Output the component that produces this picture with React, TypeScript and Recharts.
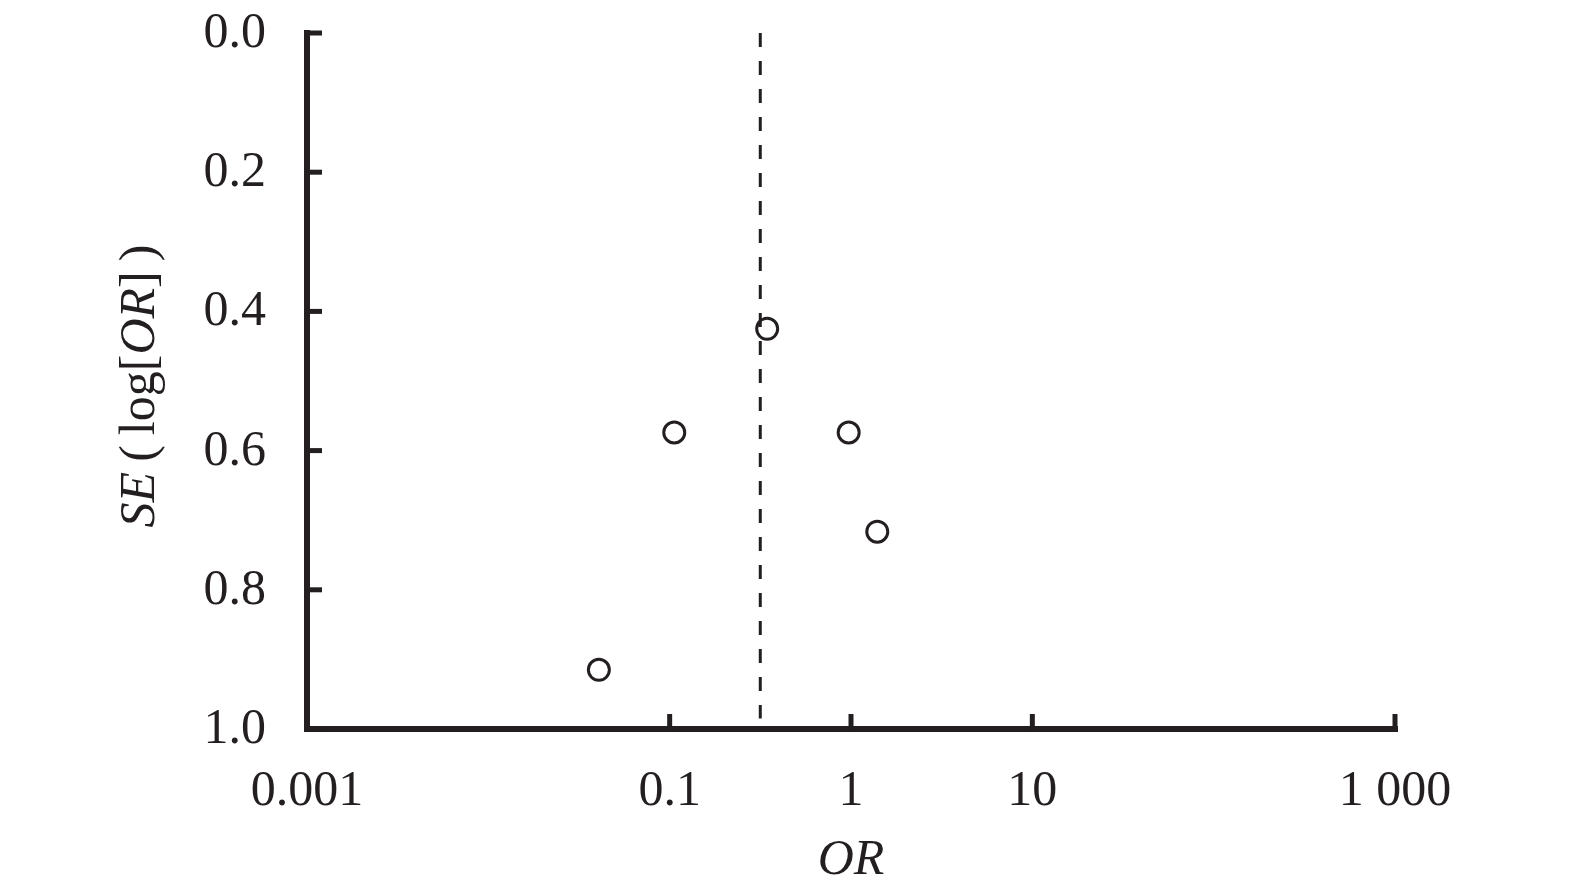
import React from "react";
import {
  ScatterChart,
  Scatter,
  XAxis,
  YAxis,
  ReferenceLine,
  Label,
} from "recharts";

const orValues = [0.0407, 0.106, 0.345, 0.971, 1.396];
const seValues = [0.915, 0.574, 0.425, 0.574, 0.7165];
const pooledOR = 0.316;
const xTicks = [0.001, 0.1, 1, 10, 1000];
const yTicks = [0, 0.2, 0.4, 0.6, 0.8, 1.0];

const data = orValues.map((or, i) => ({ or, se: seValues[i] }));

const INK = "#231f20";
const FONT = "'Liberation Serif', 'DejaVu Serif', serif";

const fmtX = (v: number) => (v >= 1000 ? v.toLocaleString("en-US").replace(",", " ") : String(v));

const XTick = ({ x, y, payload }: any) => (
  <text x={x} y={y + 76} textAnchor="middle" fontFamily={FONT} fontSize={50} fill={INK}>
    {fmtX(payload.value)}
  </text>
);

const YTick = ({ x, y, payload }: any) => (
  <text x={x - 41} y={y + 14} textAnchor="end" fontFamily={FONT} fontSize={50} fill={INK}>
    {Number(payload.value).toFixed(1)}
  </text>
);

const Circle = ({ cx, cy }: any) => (
  <circle cx={cx} cy={cy} r={10.5} fill="none" stroke={INK} strokeWidth={3} />
);

const YTitle = ({ viewBox }: any) => {
  const x = viewBox.x + 54;
  const y = viewBox.y + viewBox.height / 2 + 5;
  return (
    <text x={x} y={y} transform={`rotate(-90, ${x}, ${y})`} textAnchor="middle" fontFamily={FONT} fontSize={50} fill={INK}>
      <tspan fontStyle="italic">SE</tspan>
      <tspan>{"\u2009(\u2009log["}</tspan>
      <tspan fontStyle="italic">OR</tspan>
      <tspan>{"]\u2009)"}</tspan>
    </text>
  );
};

const XTitle = ({ viewBox }: any) => (
  <text x={viewBox.x + viewBox.width / 2} y={viewBox.y + 145} textAnchor="middle" fontFamily={FONT} fontSize={50} fontStyle="italic" fill={INK}>
    OR
  </text>
);

const FunnelPlot: React.FC = () => {
  return (
    <div style={{ position: "absolute", left: 0, top: 0 }}>
      <ScatterChart
        width={1575}
        height={896}
        margin={{ top: 33, right: 180, bottom: 47, left: 100 }}
      >
        <XAxis
          type="number"
          dataKey="or"
          scale="log"
          domain={[0.001, 1000]}
          ticks={xTicks}
          allowDataOverflow
          height={120}
          tickSize={-15}
          tickMargin={15}
          tick={<XTick />}
          axisLine={{ stroke: INK, strokeWidth: 6, strokeLinecap: "square" }}
          tickLine={{ stroke: INK, strokeWidth: 5 }}
        >
          <Label content={<XTitle />} />
        </XAxis>
        <YAxis
          type="number"
          dataKey="se"
          reversed
          domain={[0, 1]}
          ticks={yTicks}
          allowDataOverflow
          width={207}
          tickSize={-15}
          tickMargin={15}
          tick={<YTick />}
          axisLine={{ stroke: INK, strokeWidth: 6, strokeLinecap: "square" }}
          tickLine={{ stroke: INK, strokeWidth: 5 }}
        >
          <Label content={<YTitle />} />
        </YAxis>
        <ReferenceLine
          segment={[
            { x: pooledOR, y: 0 },
            { x: pooledOR, y: 0.985 },
          ]}
          stroke={INK}
          strokeWidth={3}
          strokeDasharray="14 14"
        />
        <Scatter data={data} shape={<Circle />} isAnimationActive={false} />
      </ScatterChart>
    </div>
  );
};

export default function App() {
  return <FunnelPlot />;
}
